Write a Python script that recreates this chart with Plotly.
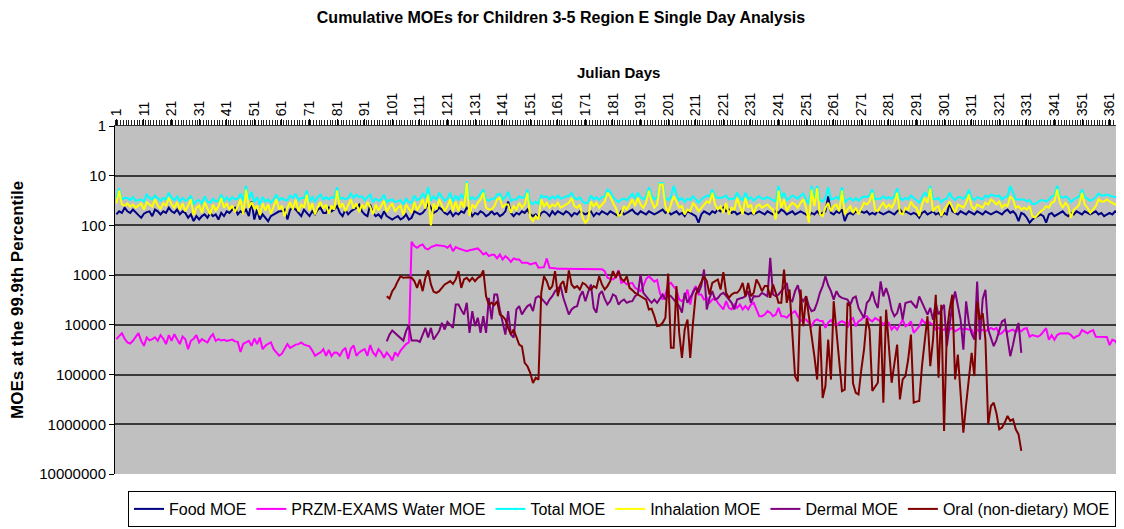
import plotly.graph_objects as go

# ---------------- data ----------------
food = [
    60, 52, 56, 44, 52, 56, 48, 56, 62, 70,
    58, 54, 52, 65, 48, 52, 60, 52, 56, 44,
    52, 56, 48, 60, 52, 56, 70, 60, 82, 65,
    76, 65, 60, 70, 56, 65, 60, 76, 56, 65,
    52, 56, 48, 44, 60, 52, 56, 48, 65, 33,
    76, 48, 76, 60, 70, 82, 65, 60, 56, 52,
    52, 48, 76, 48, 44, 48, 56, 65, 48, 56,
    65, 52, 60, 48, 44, 56, 56, 44, 52, 48,
    41, 56, 65, 48, 60, 52, 48, 44, 38, 52,
    60, 65, 38, 56, 65, 60, 70, 52, 65, 70,
    76, 70, 65, 76, 70, 60, 76, 70, 52, 56,
    60, 56, 48, 35, 44, 56, 52, 44, 48, 56,
    60, 52, 65, 56, 60, 52, 56, 44, 48, 65,
    56, 60, 52, 56, 65, 60, 52, 60, 56, 65,
    60, 52, 33, 56, 65, 56, 60, 52, 56, 48,
    60, 65, 60, 70, 56, 52, 56, 65, 52, 60,
    52, 56, 60, 52, 56, 65, 56, 60, 52, 56,
    60, 56, 52, 65, 56, 60, 52, 56, 60, 52,
    56, 60, 65, 52, 60, 56, 52, 48, 56, 60,
    52, 56, 60, 52, 56, 60, 56, 52, 48, 56,
    52, 60, 56, 52, 60, 56, 65, 52, 56, 60,
    65, 88, 60, 52, 56, 60, 52, 56, 48, 52,
    44, 52, 48, 56, 52, 60, 56, 52, 56, 60,
    56, 60, 56, 52, 56, 60, 52, 56, 60, 52,
    56, 48, 52, 60, 56, 52, 60, 56, 52, 56,
    60, 65, 56, 60, 52, 60, 56, 52, 26, 56,
    60, 52, 56, 48, 82, 60, 56, 60, 52, 56,
    52, 56, 52, 60, 56, 60, 52, 56, 60, 56,
    52, 56, 60, 52, 48, 56, 52, 56, 60, 56,
    60, 70, 56, 52, 60, 56, 52, 60, 56, 65,
    56, 60, 35, 52, 56, 60, 52, 56, 60, 52,
    56, 60, 52, 56, 60, 52, 56, 60, 56, 52,
    56, 60, 52, 48, 56, 52, 60, 82, 56, 60,
    70, 88, 76, 70, 65, 60, 65, 88, 60, 56,
    65, 60, 56, 52, 60, 65, 56, 60, 52, 56,
    60, 52, 56, 60, 56, 52, 60, 56, 65, 60,
    56, 60, 52, 56, 60,
]

inhalation = [
    36, 20, 38, 40, 36, 42, 38, 44, 40, 36,
    48, 34, 38, 42, 30, 40, 46, 36, 40, 28,
    38, 44, 34, 48, 36, 52, 40, 30, 62, 44,
    40, 56, 34, 46, 60, 38, 50, 42, 28, 44,
    36, 48, 40, 54, 42, 30, 60, 19, 44, 34,
    46, 40, 62, 36, 50, 38, 58, 42, 30, 48,
    40, 66, 44, 34, 48, 30, 52, 38, 44, 24,
    50, 36, 60, 42, 34, 46, 38, 58, 40, 48,
    20, 44, 36, 52, 40, 30, 46, 36, 54, 38,
    46, 34, 42, 60, 38, 50, 40, 32, 54, 42,
    36, 52, 44, 40, 62, 38, 46, 56, 34, 50,
    40, 30, 46, 24, 100, 36, 48, 30, 40, 52,
    41, 30, 52, 33, 52, 33, 44, 14, 65, 38,
    44, 35, 30, 22, 44, 48, 48, 41, 30, 28,
    44, 38, 38, 56, 41, 48, 35, 44, 38, 22,
    70, 82, 65, 76, 30, 41, 35, 44, 38, 41,
    35, 44, 41, 38, 35, 28, 41, 44, 38, 70,
    88, 76, 33, 41, 35, 44, 38, 33, 22, 26,
    35, 44, 65, 60, 41, 48, 38, 30, 41, 28,
    38, 44, 35, 20, 33, 44, 38, 15, 15, 41,
    56, 38, 26, 33, 44, 41, 60, 48, 52, 35,
    41, 52, 44, 38, 33, 35, 22, 38, 48, 41,
    56, 35, 60, 44, 48, 28, 41, 60, 28, 44,
    38, 60, 41, 38, 44, 41, 38, 44, 48, 76,
    20, 44, 30, 52, 41, 35, 38, 44, 35, 30,
    44, 88, 19, 41, 18, 60, 65, 44, 35, 52,
    41, 38, 52, 20, 60, 48, 41, 56, 44, 60,
    44, 35, 38, 33, 22, 48, 52, 41, 35, 44,
    38, 44, 35, 22, 56, 60, 44, 48, 33, 41,
    44, 65, 38, 28, 35, 18, 52, 44, 41, 65,
    48, 41, 33, 44, 56, 38, 41, 44, 35, 24,
    41, 48, 38, 41, 44, 35, 38, 30, 33, 38,
    33, 44, 38, 41, 26, 30, 44, 41, 48, 44,
    48, 41, 65, 70, 60, 52, 48, 41, 44, 35,
    33, 19, 35, 44, 35, 41, 70, 48, 44, 38,
    22, 38, 44, 56, 48, 41, 30, 33, 33, 30,
    33, 35, 38, 35, 33,
]

total = [
    28, 18, 30, 28, 28, 31, 27, 32, 31, 30,
    33, 24, 28, 30, 25, 29, 32, 28, 30, 22,
    28, 31, 26, 33, 28, 32, 30, 25, 38, 32,
    31, 36, 26, 33, 35, 29, 33, 32, 24, 32,
    27, 32, 27, 30, 29, 23, 32, 16, 30, 21,
    34, 27, 38, 27, 33, 30, 35, 30, 24, 31,
    28, 31, 31, 25, 28, 23, 31, 28, 28, 20,
    34, 26, 34, 27, 24, 30, 27, 30, 27, 28,
    17, 29, 28, 30, 28, 23, 28, 24, 27, 26,
    31, 27, 24, 34, 29, 32, 30, 24, 34, 31,
    30, 34, 32, 31, 38, 29, 34, 35, 25, 31,
    29, 23, 28, 17, 32, 26, 30, 22, 27, 32,
    29, 22, 33, 25, 31, 24, 29, 13, 31, 27,
    30, 27, 23, 19, 30, 32, 29, 29, 24, 23,
    30, 27, 21, 32, 30, 30, 26, 28, 27, 19,
    35, 37, 33, 37, 25, 27, 26, 30, 26, 29,
    25, 29, 28, 26, 26, 22, 28, 30, 27, 33,
    36, 34, 25, 30, 27, 31, 27, 26, 19, 21,
    27, 31, 34, 30, 29, 31, 27, 23, 29, 22,
    27, 30, 26, 17, 25, 30, 27, 14, 14, 28,
    31, 27, 16, 24, 31, 28, 34, 29, 31, 26,
    30, 35, 30, 27, 25, 26, 19, 26, 28, 28,
    27, 25, 30, 29, 29, 22, 28, 31, 22, 30,
    27, 32, 28, 26, 29, 29, 27, 29, 31, 33,
    16, 28, 22, 31, 28, 25, 27, 29, 25, 23,
    30, 37, 16, 28, 16, 31, 33, 28, 17, 30,
    29, 27, 30, 17, 35, 30, 28, 32, 28, 32,
    28, 26, 27, 25, 19, 30, 29, 29, 26, 29,
    27, 29, 26, 18, 28, 31, 28, 30, 25, 28,
    30, 35, 27, 22, 26, 16, 29, 30, 28, 34,
    30, 29, 22, 28, 31, 27, 27, 29, 26, 19,
    28, 31, 27, 28, 30, 25, 27, 24, 25, 26,
    25, 30, 27, 26, 16, 23, 30, 30, 30, 30,
    33, 31, 37, 37, 34, 31, 31, 33, 30, 26,
    25, 16, 26, 28, 26, 28, 34, 30, 28, 26,
    19, 27, 29, 32, 30, 27, 23, 25, 25, 24,
    25, 26, 27, 26, 25,
]

water = [
    19400, 16600, 14700, 19000, 22600, 23700, 20900, 17500, 14700, 21000,
    26400, 17900, 20500, 19400, 17900, 20900, 16100, 19000, 24400, 16100,
    20900, 15400, 19400, 24400, 17100, 19400, 30800, 20900, 19000, 16100,
    22600, 19400, 21000, 22600, 17900, 15400, 20900, 19400, 20500, 20000,
    21000, 20500, 19800, 21500, 22000, 35000, 24000, 22600, 21000, 26400,
    18800, 24400, 18000, 30800, 26400, 24000, 22600, 30800, 36000, 41800,
    38000, 30000, 24400, 29000, 26400, 25000, 24400, 22600, 25000, 26400,
    27000, 33000, 41800, 38500, 36000, 30800, 41800, 32000, 42500, 35900,
    36500, 41800, 33000, 29000, 48800, 30000, 26000, 41800, 35900, 33000,
    30800, 41800, 25500, 35900, 41800, 30800, 36000, 46000, 35900, 42000,
    52000, 35900, 41800, 33000, 29000, 24400, 22600,
    213, 260, 282, 255, 241, 290, 304, 273, 260, 249,
    252, 258, 261, 282, 249, 329, 273, 290, 304, 315,
    329, 315, 304, 295, 290, 329, 383, 355, 414, 390,
    390, 461, 383, 484, 414, 461, 539, 461, 484, 484,
    564, 564, 564, 609, 590, 564, 711, 711, 690, 461,
    711, 720, 745, 745, 745, 745, 745, 745, 745, 745,
    745, 745, 745, 745, 745, 745, 745, 745, 769, 760,
    830, 1130, 1180, 1220, 1100, 794,
    1430, 1350, 1540, 1500, 1430, 1800, 1950, 2100, 1660, 1200,
    1050, 1220, 1350, 1250, 2270, 3100, 2450, 1540, 1430, 1700,
    1950, 3100, 3340, 2860, 1950, 3900, 2100, 1660, 2450, 2450,
    3100, 2860, 3600, 3100, 2860, 3600, 4200, 4900, 3340, 4550,
    4900, 3900, 4550, 3900, 4900, 4200, 4900, 3900, 3600, 4900,
    6700, 6700, 6200, 5300, 5700, 6700, 6200, 4550, 6700, 6700,
    7200, 6200, 5700, 5300, 6700, 8400, 7800, 7800, 9100, 10600,
    8400, 7800, 8400, 8400, 11500, 9000, 8000, 9500, 10600, 9000,
    8400, 9000, 11500,
    7860, 7300, 10700, 8500, 7860, 6700, 6700, 7860, 8500, 7300,
    7860, 8500, 9900, 8500, 9160, 12500, 10700, 12500, 9900, 7860,
    10700, 9900, 8500, 14500, 12500, 10700, 7860, 9160, 8500, 9160,
    9900, 12500, 11500, 12500, 12500, 11500, 12500, 11500, 13500, 12500,
    11500, 12500, 12000, 12500, 12500, 17000, 12500, 13500, 12500, 13500,
    12500, 11500, 12500, 11500, 15500, 14500, 12500, 14000, 13000, 12500,
    14000, 12500, 13500, 12000,
    11700, 17300, 16100, 16500, 17300, 16000, 14000, 11700, 20000, 16100,
    20000, 16000, 15000, 14800, 15000, 14800, 16000, 18600, 17000, 16100,
    12700, 13500, 14800, 13500, 12700, 17300, 17300, 17000, 17300, 17500,
    25600, 20000, 21000, 25600, 18600,
]

# Dermal and oral (non-dietary) MOEs start on Julian day 99
dermal_first_day = 99
dermal = [
    21400, 15700, 13000, 14500, 16900, 18500, 20700, 13400, 10200, 20700,
    21000, 20700, 22000, 15700, 11500, 18000, 11500, 19700, 15700, 13400,
    9100, 12400, 8700, 9800, 11500, 3900, 3900, 5000, 6200, 3600,
    14500, 5300, 10600, 7200, 14500, 6700, 14500, 2860, 7800, 2450,
    2450, 5000, 8400, 15700, 5300, 15700, 18000, 4900, 4200, 6200,
    5000, 4200, 3900, 5300, 2860, 2650, 2900, 3340, 3900, 3100,
    2650, 2100, 1900, 1660, 2860, 4200, 6200, 4900, 4400, 4200,
    2650, 2100, 3340, 2200, 1540, 4550, 5700, 2450, 2100, 3000,
    3900, 3340, 2450,
    2650, 3900, 3340, 3100, 3600, 3400, 3340, 2650, 2450, 970,
    2270, 2600, 3100, 3600, 3100, 3600, 3000, 2450, 3100, 2450,
    2650, 3100, 3600, 4200, 5700, 2270, 3600, 2860, 2300, 1800,
    2270, 1660, 770, 4900, 2860, 2100, 3100, 2900, 2450, 2270,
    2600, 3100, 3600, 4900, 3100, 2950, 2860, 2650, 2100, 3600,
    2650, 2700, 2650, 2270, 2450, 2650, 450, 2450, 2650, 2450,
    2100, 1800, 1430, 3100, 3340, 2100, 1600, 2860, 3340, 2650,
    4200, 5300, 5000, 3600, 2270, 1660, 1050, 1600, 2100, 3100,
    2100, 2650, 2860, 3000, 3100,
    3940, 2890, 2680, 4580, 5800, 7300, 3640, 3120, 2130, 3500,
    4580, 1340, 2680, 1820, 2680, 5000, 6700, 5800, 3640, 7860,
    3640, 3500, 3370, 3940, 4580, 2680, 3640, 5000, 6220, 4580,
    7860, 3640, 6220, 5000, 3940, 26900, 10700, 3940, 2130, 4500,
    7860, 31500, 3370, 9160, 15000, 19800, 1340, 19800, 3000, 1970,
    12500, 18300, 26900, 20000, 13500, 8500, 7860, 18300, 42600, 25000,
    13500, 9160, 36600,
]

oral = [
    2650, 2950, 2100, 1750, 1320, 1050, 1130, 1100, 1100, 1130,
    1320, 1800, 1220, 2100, 1130, 800, 1540, 2160, 2270, 2100,
    1800, 1540, 1430, 1320, 1500, 1220, 830, 1800, 1220, 1130,
    1320, 1130, 1320, 1130, 1050, 800, 2650, 3900, 3600, 4000,
    3340, 6200, 6700, 7800, 11500, 15600, 12400, 18000, 25000, 27000,
    58000, 68000, 92000, 148000, 116000, 126000, 2270, 1050, 1320, 1950,
    1660, 830, 2650, 1540, 1320, 2270, 800, 1540, 1800, 1660,
    1950, 1430, 1540, 1800, 1950, 1660, 1800, 1050, 1540, 1950,
    1660, 1320, 830,
    1130, 830, 1190, 1320, 1050, 1800, 2000, 2270, 2450, 2650,
    2860, 3100, 4900, 4750, 6700, 10600, 10300, 9100, 7200, 930,
    29000, 29000, 1660, 14500, 46000, 12400, 7800, 46000, 9100, 2450,
    1800, 1320, 1050, 1320, 2450, 1430, 1320, 1220, 1950, 870,
    2270, 2860, 2450, 2270, 2270, 1950, 1430, 2650, 1430, 2650,
    2270, 1220, 1540, 2100, 1660, 1660, 2860, 1540, 2270, 3600,
    3600, 770, 3600, 1950, 14500, 108000, 137000, 1950, 10600, 2650,
    6700, 15700, 42700, 126000, 10600, 295000, 170000, 19700, 126000, 3340,
    13400, 58000, 215000, 200000, 3600, 4250,
    150000, 232000, 250000, 80000, 31300, 7300, 12500, 214000, 180000, 146000,
    6700, 367000, 4950, 23000, 146000, 60000, 24900, 315000, 125000, 107000,
    49800, 15700, 367000, 350000, 340000, 67600, 23000, 6700, 67600, 20000,
    2480, 116000, 3940, 1360000, 14500, 5000, 2480, 125000, 39500, 270000,
    1470000, 400000, 125000, 36600, 107000, 3380, 7900, 5800, 19800, 998000,
    429000, 367000, 600000, 1260000, 1160000, 925000, 680000, 857000, 794000, 1260000,
    1600000, 3420000,
]

tick_days = [1, 11, 21, 31, 41, 51, 61, 71, 81, 91, 101, 111, 121, 131, 141, 151,
             161, 171, 181, 191, 201, 211, 221, 231, 241, 251, 261, 271, 281, 291,
             301, 311, 321, 331, 341, 351, 361]
y_ticks = [1, 10, 100, 1000, 10000, 100000, 1000000, 10000000]
y_tick_text = ["1", "10", "100", "1000", "10000", "100000", "1000000", "10000000"]

assert len(food) == 365 and len(inhalation) == 365 and len(total) == 365 and len(water) == 365
assert len(dermal) == 231 and len(oral) == 231

days = list(range(1, len(food) + 1))
late_days = list(range(dermal_first_day, dermal_first_day + len(dermal)))

FONT = "Liberation Sans, Arial, sans-serif"

# the page body adds an 8px margin, so the figure itself is 8px smaller
W, H = 1116, 521

series = [
    ("Food MOE", days, food, "#000080"),
    ("PRZM-EXAMS Water MOE", days, water, "#FF00FF"),
    ("Total MOE", days, total, "#00FFFF"),
    ("Inhalation MOE", days, inhalation, "#FFFF00"),
    ("Dermal MOE", late_days, dermal, "#800080"),
    ("Oral (non-dietary) MOE", late_days, oral, "#800000"),
]

fig = go.Figure()
for name, xs, ys, col in series:
    fig.add_trace(go.Scatter(x=xs, y=ys, mode="lines", name=name,
                             line=dict(color=col, width=2)))

fig.update_layout(
    width=W, height=H,
    margin=dict(l=107, r=2, t=118, b=55, autoexpand=False),
    paper_bgcolor="white",
    plot_bgcolor="#C0C0C0",
    font=dict(family=FONT, size=14, color="black"),
    showlegend=True,
    legend=dict(
        orientation="h",
        xref="container", yref="container",
        x=614 / W, xanchor="center",
        y=2 / H, yanchor="bottom",
        bordercolor="black", borderwidth=1,
        bgcolor="white",
        font=dict(family=FONT, size=16),
        traceorder="normal",
    ),
    title=dict(
        text="<b>Cumulative MOEs for Children 3-5 Region E Single Day Analysis</b>",
        x=553 / W, xref="container", xanchor="center",
        y=1 - 9 / H, yref="container", yanchor="middle",
        font=dict(family=FONT, size=16),
    ),
)

fig.update_xaxes(
    side="top",
    automargin=False,
    range=[0.5, 365.5],
    tickmode="array", tickvals=tick_days, ticktext=[str(d) for d in tick_days],
    tickangle=-90,
    tickfont=dict(family=FONT, size=14),
    ticks="outside", ticklen=6, tickcolor="black",
    minor=dict(tickmode="linear", tick0=0.5, dtick=1, ticks="outside",
               ticklen=5, tickcolor="#222222", showgrid=False),
    showgrid=False, zeroline=False,
    showline=True, linecolor="#333333", linewidth=1,
)

fig.update_yaxes(
    type="log",
    automargin=False,
    range=[7, 0],
    tickmode="array", tickvals=y_ticks, ticktext=y_tick_text,
    tickfont=dict(family=FONT, size=15),
    ticks="outside", ticklen=5, tickcolor="black",
    showgrid=True, gridcolor="#3a3a3a", gridwidth=1.5,
    zeroline=False,
    showline=True, linecolor="black", linewidth=1,
)

fig.add_annotation(
    text="<b>Julian Days</b>", xref="paper", yref="paper",
    x=0.5, y=1 + (126 - 72) / 348, xanchor="center", yanchor="middle",
    showarrow=False, font=dict(family=FONT, size=15),
)
fig.add_annotation(
    text="<b>MOEs at the 99.9th Percentile</b>", xref="paper", yref="paper",
    x=(17 - 115) / 1007, y=0.5, xanchor="center", yanchor="middle",
    textangle=-90, showarrow=False, font=dict(family=FONT, size=17),
)

fig.write_html("out.html")
